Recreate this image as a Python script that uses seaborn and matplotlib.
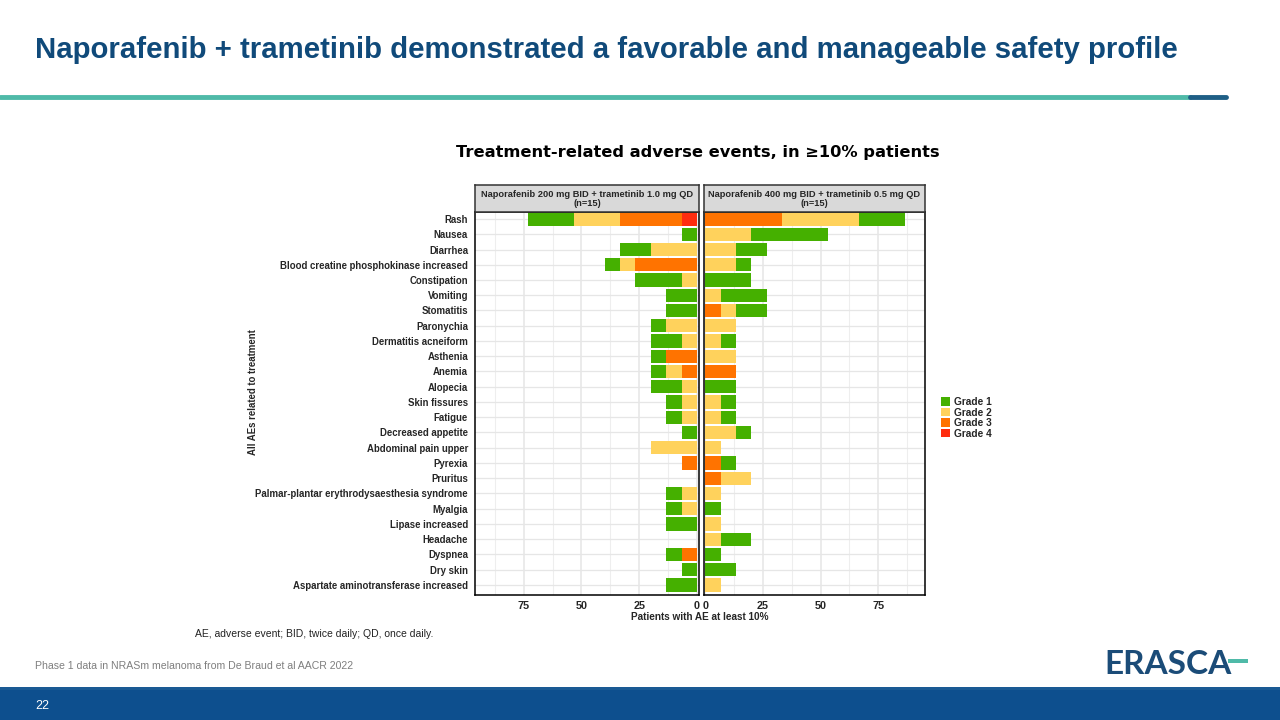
import numpy as np
import pandas as pd
import matplotlib.pyplot as plt
import seaborn as sns
from matplotlib.patches import Patch, Rectangle
from matplotlib.lines import Line2D

# -----------------------------
# data (patient counts, n=15 per arm)
# -----------------------------
n_patients = 15
adverse_events = ['Rash', 'Nausea', 'Diarrhea', 'Blood creatine phosphokinase increased',
                  'Constipation', 'Vomiting', 'Stomatitis', 'Paronychia', 'Dermatitis acneiform',
                  'Asthenia', 'Anemia', 'Alopecia', 'Skin fissures', 'Fatigue',
                  'Decreased appetite', 'Abdominal pain upper', 'Pyrexia', 'Pruritus',
                  'Palmar-plantar erythrodysaesthesia syndrome', 'Myalgia', 'Lipase increased',
                  'Headache', 'Dyspnea', 'Dry skin', 'Aspartate aminotransferase increased']

grade1_200 = [3, 1, 2, 1, 3, 2, 2, 1, 2, 1, 1, 2, 1, 1, 1, 0, 0, 0, 1, 1, 2, 0, 1, 1, 2]
grade2_200 = [3, 0, 3, 1, 1, 0, 0, 2, 1, 0, 1, 1, 1, 1, 0, 3, 0, 0, 1, 1, 0, 0, 0, 0, 0]
grade3_200 = [4, 0, 0, 4, 0, 0, 0, 0, 0, 2, 1, 0, 0, 0, 0, 0, 1, 0, 0, 0, 0, 0, 1, 0, 0]
grade4_200 = [1, 0, 0, 0, 0, 0, 0, 0, 0, 0, 0, 0, 0, 0, 0, 0, 0, 0, 0, 0, 0, 0, 0, 0, 0]

grade1_400 = [3, 5, 2, 1, 3, 3, 2, 0, 1, 0, 0, 2, 1, 1, 1, 0, 1, 0, 0, 1, 0, 2, 1, 2, 0]
grade2_400 = [5, 3, 2, 2, 0, 1, 1, 2, 1, 2, 0, 0, 1, 1, 2, 1, 0, 2, 1, 0, 1, 1, 0, 0, 1]
grade3_400 = [5, 0, 0, 0, 0, 0, 1, 0, 0, 0, 2, 0, 0, 0, 0, 0, 1, 1, 0, 0, 0, 0, 0, 0, 0]
grade4_400 = [0, 0, 0, 0, 0, 0, 0, 0, 0, 0, 0, 0, 0, 0, 0, 0, 0, 0, 0, 0, 0, 0, 0, 0, 0]

grade_labels = ['Grade 1', 'Grade 2', 'Grade 3', 'Grade 4']
grade_colors = ['#45b000', '#ffd25c', '#ff7300', '#ff2d0f']
panel_titles = ['Naporafenib 200 mg BID + trametinib 1.0 mg QD\n(n=15)',
                'Naporafenib 400 mg BID + trametinib 0.5 mg QD\n(n=15)']

# -----------------------------
# helpers
# -----------------------------
W, H = 1280, 720

def box(x0, y0, x1, y1):
    return [x0 / W, 1 - y1 / H, (x1 - x0) / W, (y1 - y0) / H]

def stacked_frame(g1, g2, g3, g4):
    # stacked outward from 0: grade 4, grade 3, grade 2, grade 1
    pct = lambda g: np.array(g) * 100 / n_patients
    c4 = pct(g4)
    c3 = c4 + pct(g3)
    c2 = c3 + pct(g2)
    c1 = c2 + pct(g1)
    return pd.DataFrame({'AE': adverse_events, 'Grade 1': c1, 'Grade 2': c2,
                         'Grade 3': c3, 'Grade 4': c4})

sns.set_theme(style='white')
plt.rcParams['font.family'] = ['Liberation Sans', 'DejaVu Sans']

fig = plt.figure(figsize=(12.8, 7.2), dpi=100)

# slide header
fig.text(35 / W, 1 - 50 / H, 'Naporafenib + trametinib demonstrated a favorable and manageable safety profile',
         fontsize=21.2, fontweight='bold', color='#104a7a', va='center', ha='left')
fig.add_artist(Line2D([0, 1190 / W], [1 - 97 / H] * 2, color='#4fbaa8', lw=3.5))
fig.add_artist(Line2D([1190 / W, 1226 / W], [1 - 97 / H] * 2, color='#1f5f86', lw=3.5))

fig.text(698 / W, 1 - 152 / H, 'Treatment-related adverse events, in \u226510% patients',
         fontsize=11.7, fontweight='bold', color='black', ha='center', va='center',
         family=['DejaVu Sans'])

frames = [stacked_frame(grade1_200, grade2_200, grade3_200, grade4_200),
          stacked_frame(grade1_400, grade2_400, grade3_400, grade4_400)]
panel_boxes = [(475, 699), (704, 925)]

for i, (df, (x0, x1)) in enumerate(zip(frames, panel_boxes)):
    ax = fig.add_axes(box(x0, 212, x1, 595))
    for grade, color in zip(grade_labels, grade_colors):
        sns.barplot(data=df, x=grade, y='AE', orient='h', color=color, saturation=1,
                    width=0.87, ax=ax, linewidth=0)
    if i == 0:
        ax.set_xlim(96.1, -0.9)
        ax.tick_params(axis='y', length=3, width=0.8, color='black', pad=2)
        for lbl in ax.get_yticklabels():
            lbl.set_fontsize(6.9)
            lbl.set_fontweight('bold')
    else:
        ax.set_xlim(-0.5, 95.2)
        ax.set_yticklabels([])
        ax.tick_params(axis='y', length=0)
    ax.set_ylim(24.66, -0.46)
    ax.set_xticks([0, 25, 50, 75])
    ax.set_xticks([12.5, 37.5, 62.5, 87.5], minor=True)
    ax.set_xticklabels(['0', '25', '50', '75'], fontsize=7.8, fontweight='bold')
    ax.tick_params(axis='x', which='major', length=0, pad=4)
    ax.tick_params(axis='x', which='minor', length=0)
    ax.grid(True, axis='x', which='major', color='#e6e6e6', lw=1.1)
    ax.grid(True, axis='x', which='minor', color='#eeeeee', lw=0.8)
    ax.grid(True, axis='y', color='#e6e6e6', lw=0.9)
    ax.set_axisbelow(True)
    ax.set_xlabel('')
    ax.set_ylabel('')
    for s in ax.spines.values():
        s.set_color('black')
        s.set_linewidth(1.1)

    # facet strip
    sax = fig.add_axes(box(x0, 185, x1, 212))
    sax.set_facecolor('#d9d9d9')
    sax.set_xticks([])
    sax.set_yticks([])
    for s in sax.spines.values():
        s.set_color('#333333')
        s.set_linewidth(1.1)
    sax.text(0.5, 0.5, panel_titles[i], transform=sax.transAxes, ha='center', va='center',
             fontsize=6.7, fontweight='bold', linespacing=1.0)

fig.text(253 / W, 1 - 392 / H, 'All AEs related to treatment', rotation=90, fontsize=6.9,
         fontweight='bold', ha='center', va='center')
fig.text(700 / W, 1 - 617 / H, 'Patients with AE at least 10%', fontsize=7.2,
         fontweight='bold', ha='center', va='center')

# legend
handles = [Patch(facecolor=c, edgecolor='none', label=l) for c, l in zip(grade_colors, grade_labels)]
fig.legend(handles=handles, loc='upper left', bbox_to_anchor=(936 / W, 1 - 392 / H),
           frameon=False, handlelength=0.9, handleheight=0.9, handletextpad=0.4,
           labelspacing=0.05, borderpad=0, prop={'size': 7.3, 'weight': 'bold'})

# footnotes
fig.text(195 / W, 1 - 634 / H, 'AE, adverse event; BID, twice daily; QD, once daily.',
         fontsize=7.5, color='#222222', ha='left', va='center')
fig.text(35 / W, 1 - 666 / H, 'Phase 1 data in NRASm melanoma from De Braud et al AACR 2022',
         fontsize=7.6, color='#7f7f7f', ha='left', va='center')

# bottom band and logo
fig.add_artist(Rectangle((0, 0), 1, 30 / H, transform=fig.transFigure,
                         facecolor='#0d4f8e', edgecolor='none'))
fig.add_artist(Rectangle((0, 30 / H), 1, 3 / H, transform=fig.transFigure,
                         facecolor='#1a5a94', edgecolor='none'))
fig.text(42 / W, 1 - 706 / H, '22', fontsize=9, color='white', ha='center', va='center')
fig.text(1104 / W, 1 - 664 / H, 'ERASCA', fontsize=24, fontweight='bold', color='#1b4c78',
         ha='left', va='center', family=['Lato', 'DejaVu Sans'])
fig.add_artist(Rectangle((1228 / W, 1 - 663 / H), 20 / W, 4 / H, transform=fig.transFigure,
                         facecolor='#4fbaa8', edgecolor='none'))

fig.savefig('out.png', dpi=100)
